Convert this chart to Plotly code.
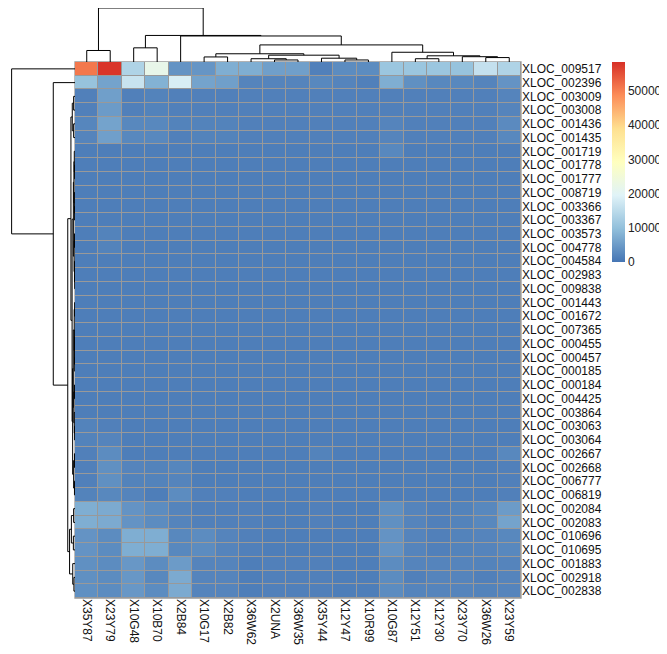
import plotly.graph_objects as go

cols = ["X35Y87","X23Y79","X10G48","X10B70","X2B84","X10G17","X2B82","X36W62","X2UNA","X36W35",
        "X35Y44","X12Y47","X10R99","X10G87","X12Y51","X12Y30","X23Y70","X36W26","X23Y59"]
rows = ["XLOC_009517","XLOC_002396","XLOC_003009","XLOC_003008","XLOC_001436","XLOC_001435","XLOC_001719",
        "XLOC_001778","XLOC_001777","XLOC_008719","XLOC_003366","XLOC_003367","XLOC_003573","XLOC_004778",
        "XLOC_004584","XLOC_002983","XLOC_009838","XLOC_001443","XLOC_001672","XLOC_007365","XLOC_000455",
        "XLOC_000457","XLOC_000185","XLOC_000184","XLOC_004425","XLOC_003864","XLOC_003063","XLOC_003064",
        "XLOC_002667","XLOC_002668","XLOC_006777","XLOC_006819","XLOC_002084","XLOC_002083","XLOC_010696",
        "XLOC_010695","XLOC_001883","XLOC_002918","XLOC_002838"]

B = 1200  # typical background value
values = [
 [51000,58000,13500,22000,4000,4200,7500,7500,5500,5500,1500,3000,3000,11000,11000,11000,10500,16000,13500],
 [10500,6000,16500,8000,18500,6000,5500,2000,2000,2000,2500,2000,1500,7500,3500,2500,2500,2000,4000],
 [1500,5500,1500,1800,1500,1500,1500,1500,1500,1500,1500,1500,1500,1500,1500,1500,1500,1500,2000],
 [1500,5000,1500,1800,1500,1500,1500,1500,1500,1500,1500,1500,1500,1500,1500,1500,1500,1500,2000],
 [2200,6000,2500,2500,1800,1800,1800,1500,1500,1500,1500,1500,1500,2000,1500,1500,1500,1500,2800],
 [2000,5500,2500,2500,1500,1800,1800,1500,1500,1500,1500,1500,1500,2000,1500,1500,1500,1500,2500],
 [B,B,B,B,B,B,B,B,B,B,B,B,B,2500,B,B,B,B,B],
] + [[B]*19 for _ in range(19)] + [
 [1800,1500,B,B,B,B,B,B,B,B,B,B,B,B,B,B,B,B,B],
 [1800,2000,B,B,B,B,B,B,B,B,B,B,B,B,B,B,B,B,B],
 [1500,3000,B,B,B,B,B,B,B,B,1800,B,B,B,B,B,B,B,2500],
 [1500,3500,2000,1800,2200,B,B,B,B,B,B,B,B,B,B,B,B,B,1500],
 [1500,3500,1800,1800,2000,B,B,B,B,B,B,B,B,B,B,B,B,B,1500],
 [1800,2500,2000,1200,3000,1500,1500,B,B,B,B,B,B,B,B,B,B,B,1500],
 [7500,7000,4000,3000,2000,1500,1500,1500,1200,1200,1500,1200,1200,3500,2000,1500,1800,2500,5000],
 [7500,7000,4000,3000,2000,1500,1500,1500,1200,1200,1500,1200,1200,3500,2000,1500,1800,2500,6000],
 [4000,3000,7500,7500,2500,3000,2000,1500,1200,1200,1200,1200,1200,4000,2000,1500,1800,2000,2500],
 [4000,3000,7500,7500,2500,3000,2000,1500,1200,1200,1200,1200,1200,4000,2000,1500,1800,2000,2500],
 [3500,3000,4500,3000,5000,2000,2000,1200,1500,1500,1500,1200,1200,3000,2000,2000,2000,1800,2000],
 [3500,3000,4500,2500,7000,2000,2000,1200,1500,1500,1500,1200,1200,3000,1500,2000,2000,1500,2000],
 [3500,3000,4500,3000,7000,2000,2000,1200,1500,1500,1500,1200,1200,3000,2000,2000,2000,1800,2000],
]
values[12][1] = 1800
values[13][1] = 1800

# dendrograms: leaf = index, node = (left, right, height)
col_tree = ((0, 1, 13),
            ((2, 3, 16),
             (4,
              (((5, 6, 5.7), ((7, (8, 9, 2.3), 3.7), (10, (11, 12, 2.3), 4.3), 7.7), 9.3),
               (13, ((14, 15, 3.7), (16, (17, 18, 5), 6), 7), 11), 19.3),
              29.4), 30), 61)

A = ((2, 3, 1.5), (4, 5, 1.5), 3)
g1 = ((6, (7, 8, 0.4), 0.8), (9, (10, 11, 0.4), 0.7), 1.2)
g2 = ((12, 13, 0.5), (14, (15, 16, 0.3), 0.6), 1.0)
g3 = ((17, 18, 0.4), ((19, 20, 0.3), (21, 22, 0.3), 0.6), 0.9)
g4 = ((23, 24, 0.5), (25, (26, 27, 0.4), 0.8), 1.3)
g5 = ((28, 29, 0.6), (30, 31, 0.6), 1.5)
upper = (A, ((g1, g2, 1.8), ((g3, g4, 1.9), g5, 2.6), 3.2), 4.5)
lower = (((32, 33, 1.5), (34, 35, 1.8), 4), (36, (37, 38, 1.2), 2.5), 6)
row_tree = (0, (1, (upper, lower, 8), 24), 70)

def walk(node, segs):
    if isinstance(node, int):
        return node, 0.0
    a, b, h = node
    pa, ha = walk(a, segs)
    pb, hb = walk(b, segs)
    segs.append(((pa, pa, pb, pb), (ha, h, h, hb)))
    return (pa + pb) / 2, h

OFF = 7  # page offset of the plot inside the window
W, H = 660, 647
hx0, hx1, hy0, hy1 = 74 - OFF, 520 - OFF, 61 - OFF, 597 - OFF
fig = go.Figure()

fig.add_trace(go.Heatmap(
    z=values, x=list(range(len(cols))), y=list(range(len(rows))),
    zmin=0, zmax=58500, xgap=1, ygap=1,
    colorscale=[[0, "#4575B4"], [1/6, "#91BFDB"], [2/6, "#E0F3F8"], [3/6, "#FFFFBF"],
                [4/6, "#FEE090"], [5/6, "#FC8D59"], [1, "#D73027"]],
    colorbar=dict(x=(611 - OFF)/W, xanchor="left", y=1-(61 - OFF)/H, yanchor="top", len=200,
                  lenmode="pixels", thickness=13, outlinewidth=0,
                  tickvals=[0, 10000, 20000, 30000, 40000, 50000],
                  tickformat="d", ticks="", xpad=0, ypad=0,
                  tickfont=dict(size=12, color="#222", family="Liberation Sans, Arial")),
    xaxis="x", yaxis="y", hoverinfo="skip"))

segs = []
walk(col_tree, segs)
for xs, ys in segs:
    fig.add_trace(go.Scatter(x=xs, y=ys, mode="lines", line=dict(color="black", width=1),
                             xaxis="x2", yaxis="y2", showlegend=False, hoverinfo="skip"))
segs = []
walk(row_tree, segs)
for ys, xs in segs:
    fig.add_trace(go.Scatter(x=xs, y=ys, mode="lines", line=dict(color="black", width=1),
                             xaxis="x3", yaxis="y3", showlegend=False, hoverinfo="skip"))

xr = [-0.5, len(cols) - 0.5]
yr = [len(rows) - 0.5, -0.5]
fnt = dict(size=12, color="#111", family="Liberation Sans, Arial")
fig.update_layout(
    width=W, height=H, margin=dict(l=0, r=0, t=0, b=0, autoexpand=False),
    paper_bgcolor="white", plot_bgcolor="white", showlegend=False,
    xaxis=dict(domain=[hx0/W, hx1/W], range=xr, tickvals=list(range(len(cols))), ticktext=cols,
               tickangle=90, tickfont=fnt, showgrid=False, zeroline=False, ticks="", automargin=False),
    yaxis=dict(domain=[1-hy1/H, 1-hy0/H], range=yr, tickvals=list(range(len(rows))), ticktext=rows,
               side="right", tickfont=fnt, showgrid=False, zeroline=False, ticks="", automargin=False),
    xaxis2=dict(domain=[hx0/W, hx1/W], range=xr, visible=False, anchor="y2"),
    yaxis2=dict(domain=[1-hy0/H, 1], range=[0, 61], visible=False, anchor="x2"),
    xaxis3=dict(domain=[0, hx0/W], range=[74, 0], visible=False, anchor="y3"),
    yaxis3=dict(domain=[1-hy1/H, 1-hy0/H], range=yr, visible=False, anchor="x3"),
    shapes=[dict(type="rect", xref="paper", yref="paper", x0=hx0/W-0.001, x1=hx1/W+0.001,
                 y0=1-hy1/H-0.001, y1=1-hy0/H+0.001, fillcolor="#999999", line=dict(width=0),
                 layer="below")],
)
fig.write_html("out.html")
